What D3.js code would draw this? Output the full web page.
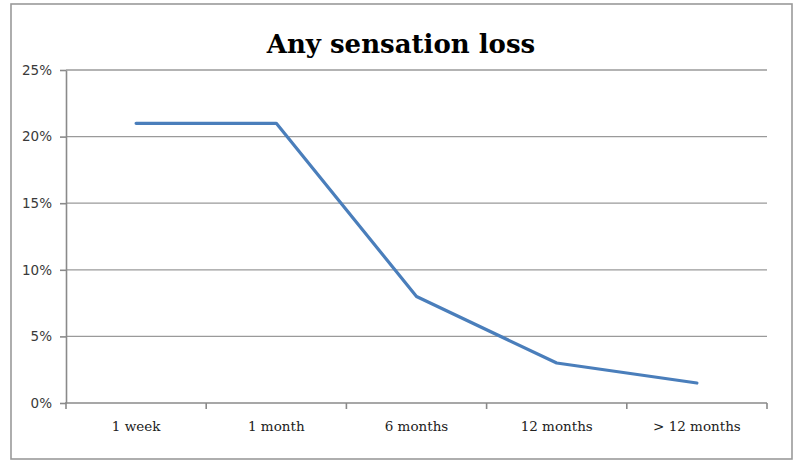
<!DOCTYPE html>
<html>
<head>
<meta charset="utf-8">
<script src="https://cdn.jsdelivr.net/npm/d3@7"></script>
<style>
    body { margin: 0; background: #fff; }
    .grid line { stroke: #9a9a9a; stroke-width: 1.3; }
    .axis path, .axis line { stroke: #8a8a8a; stroke-width: 1.6; }
    .y-axis text { font-family: "DejaVu Sans", Verdana, sans-serif; font-size: 13.5px; fill: #3a3a3a; }
    .x-axis text { font-family: "DejaVu Serif", Cambria, serif; font-size: 13.5px; fill: #222; }
</style>
</head>
<body>
<svg id="chart" width="800" height="464"></svg>
<script>
"use strict";

// chart data
var categories = ["1 week", "1 month", "6 months", "12 months", "> 12 months"];
var values = [0.21, 0.21, 0.08, 0.03, 0.015];
var y_ticks = [0, 0.05, 0.10, 0.15, 0.20, 0.25];
var title = "Any sensation loss";

var svg = d3.select("#chart");

// outer chart frame
svg.append("rect")
    .attr("x", 11)
    .attr("y", 4)
    .attr("width", 781)
    .attr("height", 455)
    .attr("fill", "#fff")
    .attr("stroke", "#9a9a9a")
    .attr("stroke-width", 1.6);

var plot = { left: 66, right: 767, top: 70, bottom: 403 };

var x = d3.scaleBand()
    .domain(categories)
    .range([plot.left, plot.right]);

var y = d3.scaleLinear()
    .domain([0, 0.25])
    .range([plot.bottom, plot.top]);

// horizontal gridlines
svg.append("g")
    .attr("class", "grid")
    .selectAll("line")
    .data(y_ticks.slice(1))
    .enter().append("line")
    .attr("x1", plot.left)
    .attr("x2", plot.right)
    .attr("y1", function (d) { return y(d); })
    .attr("y2", function (d) { return y(d); });

// y axis
svg.append("g")
    .attr("class", "axis y-axis")
    .attr("transform", "translate(" + plot.left + ",0)")
    .call(d3.axisLeft(y)
        .tickValues(y_ticks)
        .tickFormat(d3.format(".0%"))
        .tickSizeInner(6)
        .tickSizeOuter(0)
        .tickPadding(8));

// x axis, ticks at category boundaries
var x_axis = svg.append("g")
    .attr("class", "axis x-axis")
    .attr("transform", "translate(0," + plot.bottom + ")")
    .call(d3.axisBottom(x).tickSize(0).tickPadding(18));

x_axis.select(".domain").remove();
x_axis.append("line")
    .attr("x1", plot.left - 1)
    .attr("x2", plot.right)
    .attr("y1", 0)
    .attr("y2", 0);

var boundaries = categories.map(function (c) { return x(c); }).concat([plot.right]);
x_axis.selectAll("line.bound")
    .data(boundaries)
    .enter().append("line")
    .attr("class", "bound")
    .attr("x1", function (d) { return d; })
    .attr("x2", function (d) { return d; })
    .attr("y1", 0)
    .attr("y2", 6);

// data line
var line = d3.line()
    .x(function (d, i) { return x(categories[i]) + x.bandwidth() / 2; })
    .y(function (d) { return y(d); });

svg.append("path")
    .datum(values)
    .attr("fill", "none")
    .attr("stroke", "#4a7ebb")
    .attr("stroke-width", 3.2)
    .attr("stroke-linejoin", "round")
    .attr("stroke-linecap", "round")
    .attr("d", line);

// title
svg.append("text")
    .attr("x", 401)
    .attr("y", 53)
    .attr("text-anchor", "middle")
    .style("font-family", "'DejaVu Serif', Cambria, serif")
    .style("font-weight", "bold")
    .style("font-size", "26px")
    .style("fill", "#000")
    .text(title);
</script>
</body>
</html>
